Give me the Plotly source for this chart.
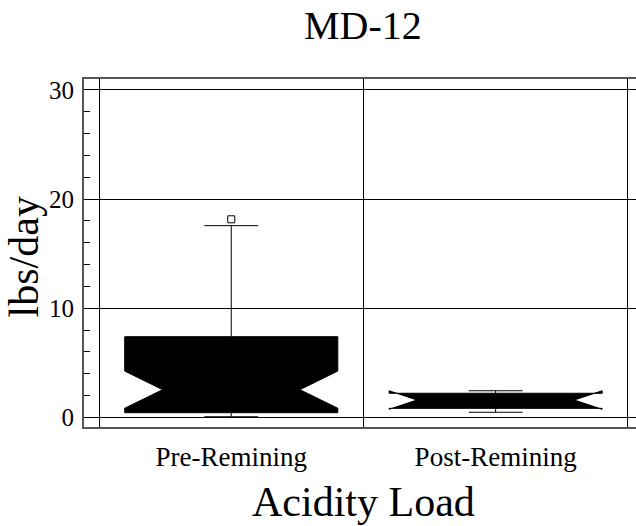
import plotly.graph_objects as go

# ---- data ----
categories = ["Pre-Remining", "Post-Remining"]
q1 = [0.44, 0.84]
median = [2.55, 1.60]
q3 = [7.40, 2.22]
lowerfence = [0.07, 0.48]
upperfence = [17.57, 2.45]
notchspan = [1.70, 0.85]
notchwidths = [0.178, 0.131]
outlier_cat = ["Pre-Remining"]
outlier_val = [18.15]

y_ticks = [0, 10, 20, 30]

FONT = "'Liberation Serif', 'Times New Roman', serif"

fig = go.Figure()
for i, cat in enumerate(categories):
    fig.add_trace(go.Box(
        x=[cat], q1=[q1[i]], median=[median[i]], q3=[q3[i]],
        lowerfence=[lowerfence[i]], upperfence=[upperfence[i]],
        notchspan=[notchspan[i]], notched=True, notchwidth=notchwidths[i],
        boxpoints=False, width=0.806, whiskerwidth=0.253,
        fillcolor="black", line=dict(color="black", width=1),
        showlegend=False, hoverinfo="skip",
    ))

fig.add_trace(go.Scatter(
    x=outlier_cat, y=outlier_val, mode="markers",
    marker=dict(symbol="square-open", size=7, color="black", line=dict(width=1)),
    showlegend=False, hoverinfo="skip",
))

fig.update_layout(
    width=636, height=526,
    margin=dict(l=84, r=0, t=79, b=99),
    paper_bgcolor="white", plot_bgcolor="white",
    boxmode="overlay",
    font=dict(family=FONT, color="black"),
    xaxis=dict(
        type="category", categoryorder="array", categoryarray=categories,
        range=[-0.557, 1.531], tickson="boundaries",
        showgrid=True, gridcolor="black", gridwidth=1,
        ticks="", showline=True, linecolor="#555555", linewidth=2, mirror=True,
        tickfont=dict(size=27, family=FONT, color="black"),
        ticklabelstandoff=5, zeroline=False,
    ),
    yaxis=dict(
        range=[-0.87, 31.0], tickvals=y_ticks,
        showgrid=True, gridcolor="black", gridwidth=1,
        ticks="inside", ticklen=9, tickcolor="black",
        minor=dict(dtick=2, ticks="inside", ticklen=6, tickcolor="black", showgrid=False),
        showline=True, linecolor="#555555", linewidth=2, mirror=False,
        tickfont=dict(size=25, family=FONT, color="black"),
        ticklabelstandoff=3, zeroline=False,
    ),
    annotations=[
        dict(text="MD-12", xref="paper", yref="paper", x=0.505, y=1.155,
             xanchor="center", yanchor="middle", showarrow=False,
             font=dict(size=40, family=FONT, color="black")),
        dict(text="Acidity Load", xref="paper", yref="paper", x=0.507, y=-0.2155,
             xanchor="center", yanchor="middle", showarrow=False,
             font=dict(size=42, family=FONT, color="black")),
        dict(text="lbs/day", xref="paper", yref="paper", x=-0.107, y=0.49,
             xanchor="center", yanchor="middle", showarrow=False, textangle=-90,
             font=dict(size=42, family=FONT, color="black")),
    ],
)

fig.write_html("out.html")
